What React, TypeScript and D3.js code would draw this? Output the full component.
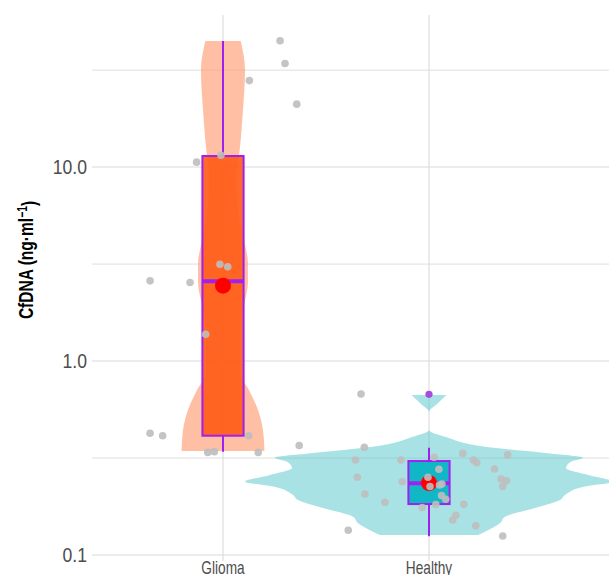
import React, { useEffect, useRef } from 'react';
import * as d3 from 'd3';

const categories = ['Glioma', 'Healthy'];

// jittered raw points: value and horizontal jitter (fraction of category spacing)
const gliomaValues = [44.8, 34.2, 27.9, 21.1, 11.5, 10.6, 3.15, 3.06, 2.59, 2.54, 1.373, 0.424, 0.412, 0.412, 0.338, 0.341, 0.338, 0.367];
const gliomaJitter = [0.277, 0.301, 0.128, 0.358, -0.01, -0.128, -0.015, 0.023, -0.354, -0.16, -0.084, -0.354, -0.293, 0.125, -0.074, -0.042, 0.171, 0.37];
const healthyValues = [0.676, 0.359, 0.309, 0.309, 0.319, 0.334, 0.309, 0.299, 0.328, 0.2775, 0.2765, 0.2515, 0.2386, 0.2515, 0.2254, 0.2295, 0.2323, 0.2465, 0.2415, 0.2254, 0.2063, 0.2026, 0.1937, 0.1869, 0.1757, 0.1821, 0.1827, 0.1602, 0.1515, 0.1414, 0.1342, 0.1253];
const healthyJitter = [-0.33, -0.314, -0.357, -0.136, 0.025, 0.164, 0.215, 0.232, 0.382, 0.318, 0.048, -0.348, -0.13, -0.005, 0.005, 0.051, 0.063, 0.35, 0.376, 0.358, -0.311, 0.061, 0.081, -0.214, -0.033, 0.033, 0.169, 0.13, 0.115, 0.227, -0.392, 0.358];

// box summaries per category
const boxLow = [0.341, 0.125];
const boxQ1 = [0.412, 0.183];
const boxMedian = [2.58, 0.234];
const boxQ3 = [11.4, 0.305];
const boxHigh = [44.6, 0.357];
const boxMean = [2.445, 0.235];
const outlierCategory = ['Healthy'];
const outlierValues = [0.673];

// violin outlines: value and half width (fraction of category spacing)
const gliomaViolinValues = [44.6, 31.6, 19.0, 13.8, 8.57, 5.52, 3.96, 3.2, 2.52, 1.94, 1.39, 0.867, 0.709, 0.559, 0.441, 0.344];
const gliomaViolinWidths = [0.086, 0.107, 0.096, 0.086, 0.068, 0.078, 0.107, 0.121, 0.121, 0.102, 0.083, 0.083, 0.126, 0.17, 0.194, 0.201];
const healthyViolinValues = [0.668, 0.6, 0.546, 0.441, 0.407, 0.3615, 0.3356, 0.3174, 0.3027, 0.2809, 0.2585, 0.2386, 0.2249, 0.2039, 0.1921, 0.1747, 0.1575, 0.1462, 0.1318, 0.1268];
const healthyViolinWidths = [0.085, 0.039, 0, 0, 0.078, 0.272, 0.563, 0.748, 0.689, 0.665, 0.772, 0.893, 0.752, 0.66, 0.636, 0.515, 0.369, 0.345, 0.272, 0.238];

const majorTicks = [0.1, 1, 10];
const majorLabels = ['0.1', '1.0', '10.0'];
const minorTicks = [0.316, 3.16, 31.6];

const App = () => {
    const ref = useRef<HTMLDivElement>(null);

    useEffect(() => {
        const root = d3.select(ref.current);
        root.selectAll('*').remove();
        const W = 609, H = 575;
        const left = 92, right = 609, top = 15, bottom = 561;
        const font = '"Liberation Sans Narrow", "Liberation Sans", Arial, sans-serif';

        const svg = root.append('svg')
            .attr('width', W).attr('height', H)
            .style('position', 'absolute').style('left', '0px').style('top', '0px')
            .style('background', '#fff');

        const y = d3.scaleLog().domain([0.0931, 60.8]).range([bottom, top]);
        const x = d3.scalePoint<string>().domain(categories).range([223, 429]);
        const step = x(categories[1])! - x(categories[0])!;

        const grid = svg.append('g');
        grid.selectAll('line.minor').data(minorTicks).enter().append('line')
            .attr('x1', left).attr('x2', right)
            .attr('y1', d => y(d)).attr('y2', d => y(d))
            .attr('stroke', '#dedede').attr('stroke-width', 1);
        grid.selectAll('line.major').data(majorTicks).enter().append('line')
            .attr('x1', left).attr('x2', right)
            .attr('y1', d => y(d)).attr('y2', d => y(d))
            .attr('stroke', '#dadada').attr('stroke-width', 1.1);
        grid.selectAll('line.v').data(categories).enter().append('line')
            .attr('x1', d => x(d)!).attr('x2', d => x(d)!)
            .attr('y1', top).attr('y2', bottom)
            .attr('stroke', '#dadada').attr('stroke-width', 1.1);

        // violins
        const violins = [
            { cat: 'Glioma', vals: gliomaViolinValues, w: gliomaViolinWidths, fill: '#FFA07A', op: 0.68 },
            { cat: 'Healthy', vals: healthyViolinValues, w: healthyViolinWidths, fill: '#5BC8CD', op: 0.52 },
        ];
        violins.forEach(v => {
            const cx = x(v.cat)!;
            const pts = v.vals.map((d, i) => [d, v.w[i]] as [number, number]);
            const area = d3.area<[number, number]>()
                .y(d => y(d[0]))
                .x0(d => cx - d[1] * step)
                .x1(d => cx + d[1] * step)
                .curve(d3.curveMonotoneY);
            svg.append('path').attr('d', area(pts)!)
                .attr('fill', v.fill).attr('fill-opacity', v.op);
        });

        // boxes
        const boxFill = ['#FF5A14', '#00B2C2'];
        const purple = '#A020F0';
        const bw = 0.1 * step;
        categories.forEach((c, i) => {
            const cx = x(c)!;
            const g = svg.append('g');
            g.append('line').attr('x1', cx).attr('x2', cx)
                .attr('y1', y(boxQ3[i])).attr('y2', y(boxHigh[i]))
                .attr('stroke', purple).attr('stroke-width', 2);
            g.append('line').attr('x1', cx).attr('x2', cx)
                .attr('y1', y(boxQ1[i])).attr('y2', y(boxLow[i]))
                .attr('stroke', purple).attr('stroke-width', 2);
            g.append('rect')
                .attr('x', cx - bw).attr('width', 2 * bw)
                .attr('y', y(boxQ3[i])).attr('height', y(boxQ1[i]) - y(boxQ3[i]))
                .attr('fill', boxFill[i]).attr('fill-opacity', 0.9)
                .attr('stroke', purple).attr('stroke-width', 2);
            g.append('line').attr('x1', cx - bw).attr('x2', cx + bw)
                .attr('y1', y(boxMedian[i])).attr('y2', y(boxMedian[i]))
                .attr('stroke', purple).attr('stroke-width', 4);
        });

        svg.selectAll('circle.out').data(outlierValues).enter().append('circle')
            .attr('cx', (d, i) => x(outlierCategory[i])!).attr('cy', d => y(d))
            .attr('r', 3.6).attr('fill', '#A64BDB');

        svg.selectAll('circle.mean').data(boxMean).enter().append('circle')
            .attr('cx', (d, i) => x(categories[i])!).attr('cy', d => y(d))
            .attr('r', 8).attr('fill', '#FF0000');

        const jitter = [
            { cat: 'Glioma', vals: gliomaValues, j: gliomaJitter },
            { cat: 'Healthy', vals: healthyValues, j: healthyJitter },
        ];
        jitter.forEach(s => {
            svg.append('g').selectAll('circle').data(s.vals).enter().append('circle')
                .attr('cx', (d, i) => x(s.cat)! + s.j[i] * step)
                .attr('cy', d => y(d))
                .attr('r', 3.8).attr('fill', '#BEBEBE').attr('fill-opacity', 0.9);
        });

        // axis text (narrow look via horizontal squeeze)
        svg.selectAll('text.ytick').data(majorTicks).enter().append('text')
            .attr('transform', d => `translate(87, ${y(d)}) scale(0.88, 1)`)
            .attr('dy', '0.36em')
            .attr('text-anchor', 'end')
            .style('font-family', font).style('font-size', '20px').style('fill', '#4d4d4d')
            .text((d, i) => majorLabels[i]);

        svg.selectAll('text.xtick').data(categories).enter().append('text')
            .attr('transform', d => `translate(${x(d)}, 574) scale(0.76, 1)`)
            .attr('text-anchor', 'middle')
            .style('font-family', font).style('font-size', '18px').style('fill', '#4d4d4d')
            .text(d => d);

        const title = svg.append('text')
            .attr('transform', 'translate(33, 260) rotate(-90) scale(0.74, 1)')
            .attr('text-anchor', 'middle')
            .style('font-family', font).style('font-size', '21px').style('font-weight', '700')
            .style('fill', '#000');
        title.append('tspan').text('CfDNA (ng·ml');
        title.append('tspan').attr('dy', '-0.45em').style('font-size', '14px').text('−1');
        title.append('tspan').attr('dy', '0.45em').text(')');
    }, []);

    return <div ref={ref}></div>;
};

export default App;
